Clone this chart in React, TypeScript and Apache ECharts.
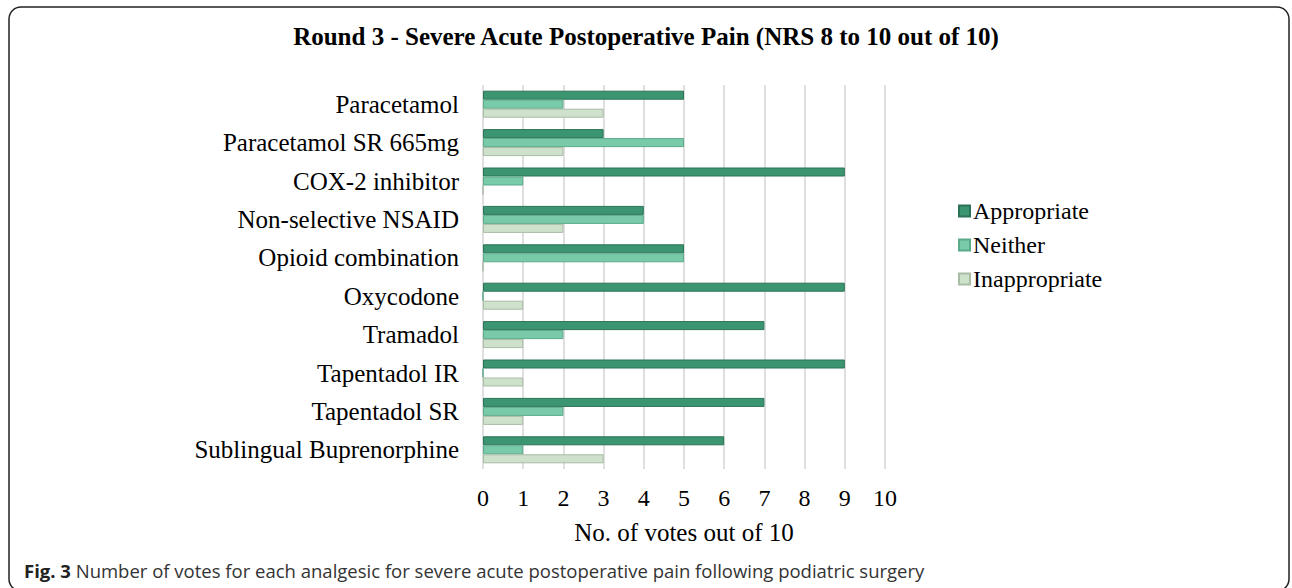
import React, { useEffect, useRef } from "react";
import * as echarts from "echarts";

const categories = [
  "Paracetamol",
  "Paracetamol SR 665mg",
  "COX-2 inhibitor",
  "Non-selective NSAID",
  "Opioid combination",
  "Oxycodone",
  "Tramadol",
  "Tapentadol IR",
  "Tapentadol SR",
  "Sublingual Buprenorphine",
];
const appropriate = [5, 3, 9, 4, 5, 9, 7, 9, 7, 6];
const neither = [2, 5, 1, 4, 5, 0, 2, 0, 2, 1];
const inappropriate = [3, 2, 0, 2, 0, 1, 1, 1, 1, 3];
const xTicks = [0, 1, 2, 3, 4, 5, 6, 7, 8, 9, 10];

const SERIF = "'Liberation Serif', 'Times New Roman', serif";
const SANS = "'Open Sans', 'Noto Sans', sans-serif";

export default function App() {
  const ref = useRef<HTMLDivElement>(null);
  useEffect(() => {
    if (!ref.current) return;
    const chart = echarts.init(ref.current, undefined, { renderer: "svg" });
    const mk = (name: string, data: number[], color: string, border: string) => ({
      name,
      type: "bar",
      data,
      barWidth: 9,
      barGap: "0%",
      itemStyle: { color, borderColor: border, borderWidth: 1 },
    });
    chart.setOption({
      animation: false,
      backgroundColor: "#ffffff",
      title: {
        text: "Round 3 - Severe Acute Postoperative Pain (NRS 8 to 10 out of 10)",
        left: "center",
        top: 19,
        textStyle: { fontFamily: SERIF, fontWeight: "bold", fontSize: 25, color: "#000" },
      },
      legend: {
        orient: "vertical",
        left: 953,
        top: 194,
        itemWidth: 11,
        itemHeight: 11,
        itemGap: 10,
        icon: "rect",
        textStyle: { fontFamily: SERIF, fontSize: 24, color: "#000", padding: [0, 0, 0, -2] },
        data: ["Appropriate", "Neither", "Inappropriate"],
      },
      grid: { left: 483, width: 402, top: 85, height: 384 },
      xAxis: {
        type: "value",
        min: 0,
        max: 10,
        interval: 1,
        axisLine: { show: false },
        axisTick: { show: false },
        axisLabel: {
          fontFamily: SERIF,
          fontSize: 24,
          color: "#000",
          margin: 17,
          formatter: (v: number) => (xTicks.includes(v) ? String(v) : ""),
        },
        splitLine: { show: true, lineStyle: { color: "#d4d4d4", width: 1.5 } },
        name: "No. of votes out of 10",
        nameLocation: "middle",
        nameGap: 51,
        nameTextStyle: { fontFamily: SERIF, fontSize: 25, color: "#000" },
      },
      yAxis: {
        type: "category",
        data: categories,
        inverse: true,
        axisLine: { show: false },
        axisTick: { show: false },
        axisLabel: { fontFamily: SERIF, fontSize: 25, color: "#000", margin: 24 },
      },
      series: [
        mk("Appropriate", appropriate, "#3C9571", "#2A7356"),
        mk("Neither", neither, "#79CAA9", "#5BAA8A"),
        mk("Inappropriate", inappropriate, "#CEE1CA", "#A9BCA6"),
      ],
      graphic: [
        {
          type: "rect",
          shape: { x: 9, y: 7, width: 1280, height: 584, r: 12 },
          style: { fill: "none", stroke: "#222", lineWidth: 1.5 },
          silent: true,
        },
        {
          type: "text",
          x: 24,
          y: 570,
          style: {
            text: "{b|Fig. 3} Number of votes for each analgesic for severe acute postoperative pain following podiatric surgery",
            fontFamily: SANS,
            fontSize: 18.5,
            fill: "#333",
            verticalAlign: "middle",
            rich: {
              b: {
                fontFamily: SANS,
                fontSize: 18.5,
                fontWeight: "bold",
                fill: "#222",
              },
            },
          },
        },
      ],
    });
    return () => chart.dispose();
  }, []);
  return (
    <div
      ref={ref}
      style={{ position: "absolute", left: 0, top: 0, width: 1292, height: 588 }}
    />
  );
}
